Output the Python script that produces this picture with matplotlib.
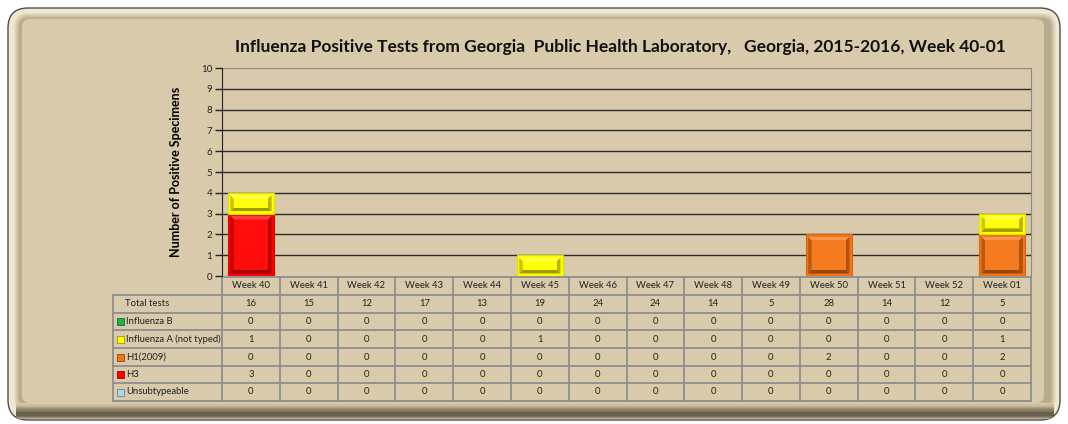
import matplotlib
matplotlib.use("Agg")
import matplotlib.pyplot as plt
from matplotlib.patches import FancyBboxPatch, Rectangle, Polygon
import matplotlib.colors as mcolors
import numpy as np

weeks = ["Week 40", "Week 41", "Week 42", "Week 43", "Week 44", "Week 45", "Week 46",
         "Week 47", "Week 48", "Week 49", "Week 50", "Week 51", "Week 52", "Week 01"]
total_tests = [16, 15, 12, 17, 13, 19, 24, 24, 14, 5, 28, 14, 12, 5]
flu_b = [0, 0, 0, 0, 0, 0, 0, 0, 0, 0, 0, 0, 0, 0]
flu_a_not_typed = [1, 0, 0, 0, 0, 1, 0, 0, 0, 0, 0, 0, 0, 1]
h1_2009 = [0, 0, 0, 0, 0, 0, 0, 0, 0, 0, 2, 0, 0, 2]
h3 = [3, 0, 0, 0, 0, 0, 0, 0, 0, 0, 0, 0, 0, 0]
unsubtypeable = [0, 0, 0, 0, 0, 0, 0, 0, 0, 0, 0, 0, 0, 0]

series_names = ["Influenza B", "Influenza A (not typed)", "H1(2009)", "H3", "Unsubtypeable"]
series_vals = [flu_b, flu_a_not_typed, h1_2009, h3, unsubtypeable]
series_cols = ["#22B14C", "#FFFF00", "#F47414", "#FF0000", "#A8D8EA"]
# stacking order bottom -> top
stack_order = [3, 2, 0, 4, 1]


def shade(c, f):
    r, g, b = mcolors.to_rgb(c)
    if f >= 0:
        return (r + (1 - r) * f, g + (1 - g) * f, b + (1 - b) * f)
    f = -f
    return (r * (1 - f), g * (1 - f), b * (1 - f))


def mix(c1, c2, t):
    a = np.array(mcolors.to_rgb(c1))
    b = np.array(mcolors.to_rgb(c2))
    return tuple(a * (1 - t) + b * t)


W, H = 1068, 424
fig = plt.figure(figsize=(W / 100, H / 100), dpi=100)
fig.patch.set_facecolor("white")
plt.rcParams['font.family'] = ['Lato', 'DejaVu Sans']

BG = "#D9CAAB"
bg = fig.add_axes([0, 0, 1, 1])
bg.set_xlim(0, W)
bg.set_ylim(H, 0)
bg.axis("off")

outer = FancyBboxPatch((8, 8), W - 16, H - 12, boxstyle="round,pad=0,rounding_size=20",
                       facecolor="#EFE7D0", edgecolor="#4E4E4E", lw=1.0, zorder=0)
bg.add_patch(outer)
# left / top soft shading toward panel
for k in range(7):
    t = k / 6
    p = FancyBboxPatch((13 + k, 12 + k), W - 24 - 2 * k, 400 - 2 * k,
                       boxstyle="round,pad=0,rounding_size=%d" % (15 - k),
                       facecolor=mix("#EFE7D0", "#B9AC8C", t), edgecolor="none", zorder=0.6)
    p.set_clip_path(outer)
    bg.add_patch(p)
panel = FancyBboxPatch((22, 19), W - 46, 384, boxstyle="round,pad=0,rounding_size=8",
                       facecolor=BG, edgecolor="none", zorder=0.7)
bg.add_patch(panel)
# bottom shadow gradient
grad_cols = [BG, "#CDBE9E", "#BFB090", "#AFA182", "#9E9174", "#8C8066", "#7B705A",
             "#6E6450", "#665D4A", "#6A614E", "#7A705C", "#948A74", "#B8AE96"]
for k, col in enumerate(grad_cols):
    r = Rectangle((16, 403 + k * 1.25), W - 30, 1.4, facecolor=col, edgecolor="none", zorder=0.8)
    r.set_clip_path(outer)
    bg.add_patch(r)

fig.text(620 / W, 1 - 47 / H,
         "Influenza Positive Tests from Georgia  Public Health Laboratory,   Georgia, 2015-2016, Week 40-01",
         ha="center", va="center", fontsize=12.5, fontweight="bold", color="#111111")

# chart axes
x0, x1, ytop, ybot = 222, 1031, 68, 276
ax = fig.add_axes([x0 / W, 1 - ybot / H, (x1 - x0) / W, (ybot - ytop) / H])
ax.set_facecolor(BG)
n = len(weeks)
x = np.arange(n)
ax.set_xlim(-0.5, n - 0.5)
ax.set_ylim(0, 10)
ax.set_yticks(range(0, 11))
ax.tick_params(axis="y", labelsize=7, length=5, width=1, colors="#222222", pad=2)
ax.set_xticks([])
for yv in range(1, 10):
    ax.axhline(yv, color="#2B2B2B", lw=1.0, zorder=1)
ax.axhline(10, color="#8A8A8A", lw=1.0, zorder=1)
for s in ["top", "bottom"]:
    ax.spines[s].set_visible(False)
ax.spines["right"].set_color("#8A8A8A")
ax.spines["left"].set_color("#222222")
ax.set_ylabel("Number of Positive Specimens", fontsize=9, fontweight="bold", labelpad=14)

# pixel -> data scale for bevels
px_x = n / (x1 - x0)
px_y = 10 / (ybot - ytop)

bw = 0.8
bottom = np.zeros(n)
for si in stack_order:
    vals = np.array(series_vals[si], dtype=float)
    face = series_cols[si]
    mask = vals > 0
    ax.bar(x[mask], vals[mask], bw, bottom=bottom[mask], color=face,
           edgecolor=shade(face, -0.12), lw=0.8, zorder=3)
    for i in np.where(mask)[0]:
        L, R = x[i] - bw / 2, x[i] + bw / 2
        B, T = bottom[i], bottom[i] + vals[i]
        rim, bev = 2.5, 3.5
        oL, oR, oB, oT = L + rim * px_x, R - rim * px_x, B + rim * px_y, T - rim * px_y
        iL, iR = oL + bev * px_x, oR - bev * px_x
        iB, iT = oB + bev * px_y, oT - bev * px_y
        faces = [
            ([(oL, oT), (oR, oT), (iR, iT), (iL, iT)], shade(face, 0.25)),   # top
            ([(oL, oB), (oL, oT), (iL, iT), (iL, iB)], shade(face, -0.22)),  # left
            ([(oR, oB), (oR, oT), (iR, iT), (iR, iB)], shade(face, -0.3)),   # right
            ([(oL, oB), (oR, oB), (iR, iB), (iL, iB)], shade(face, -0.38)),  # bottom
        ]
        for pts, col in faces:
            ax.add_patch(Polygon(pts, closed=True, facecolor=col, edgecolor="none", zorder=4))
        ax.add_patch(Rectangle((iL, iB), iR - iL, iT - iB, facecolor=shade(face, 0.05),
                               edgecolor="none", zorder=5))
    bottom += vals

# table in pixel coords
colw = (x1 - x0) / n
lab_x0 = 113
row_edges = [277, 295, 313, 330, 348, 366, 383, 401]
GRID = "#8E8E8E"
lw = 1.3
bg.plot([x0, x1], [row_edges[0], row_edges[0]], color=GRID, lw=lw, zorder=2)
for r in range(1, len(row_edges)):
    bg.plot([lab_x0, x1], [row_edges[r], row_edges[r]], color=GRID, lw=lw, zorder=2)
for c in range(n + 1):
    bg.plot([x0 + c * colw] * 2, [row_edges[0], row_edges[-1]], color=GRID, lw=lw, zorder=2)
bg.plot([lab_x0, lab_x0], [row_edges[1], row_edges[-1]], color=GRID, lw=lw, zorder=2)

fs = 6.8
for c in range(n):
    cx = x0 + (c + 0.5) * colw
    bg.text(cx, (row_edges[0] + row_edges[1]) / 2, weeks[c], ha="center", va="center",
            fontsize=fs, color="#222222")
    bg.text(cx, (row_edges[1] + row_edges[2]) / 2, str(total_tests[c]), ha="center", va="center",
            fontsize=fs, color="#222222")
    for r, vals in enumerate(series_vals):
        bg.text(cx, (row_edges[r + 2] + row_edges[r + 3]) / 2, str(vals[c]), ha="center",
                va="center", fontsize=fs, color="#222222")

bg.text(125, (row_edges[1] + row_edges[2]) / 2, "Total tests", ha="left", va="center",
        fontsize=fs, color="#222222")
for r, name in enumerate(series_names):
    cy = (row_edges[r + 2] + row_edges[r + 3]) / 2
    face = series_cols[r]
    bg.add_patch(Rectangle((117, cy - 3.5), 7, 7, facecolor=face,
                           edgecolor=shade(face, -0.4), lw=0.6, zorder=3))
    bg.text(126, cy, name, ha="left", va="center", fontsize=fs, color="#222222")

fig.savefig("out.png", dpi=100, facecolor="white")
